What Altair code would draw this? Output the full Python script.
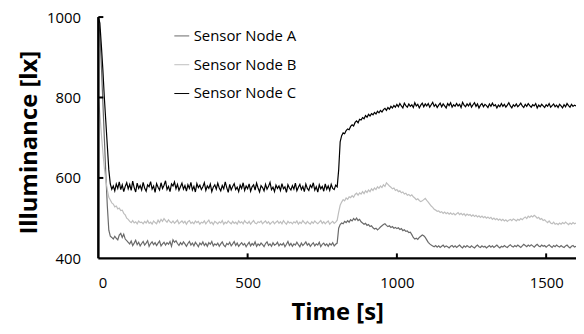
import altair as alt
import pandas as pd

# sampling instants (s)
time_s = list(range(0, 1605, 5))

node_a = [
    1000, 960, 880, 790, 700, 610, 530, 470, 455, 452,
    448, 455, 450, 446, 458, 462, 452, 460, 448, 444,
    440, 436, 443, 432, 438, 445, 434, 440, 431, 437,
    442, 433, 438, 444, 430, 437, 441, 434, 439, 432,
    438, 443, 431, 436, 440, 433, 439, 435, 442, 430,
    446, 440, 444, 437, 432, 439, 434, 441, 436, 430,
    437, 442, 433, 438, 431, 440, 435, 429, 438, 434,
    441, 432, 437, 430, 439, 435, 442, 431, 436, 433,
    438, 430, 436, 441, 433, 429, 437, 434, 440, 431,
    436, 442, 432, 438, 430, 435, 439, 433, 437, 429,
    435, 440, 431, 437, 433, 441, 430, 436, 432, 438,
    434, 429, 437, 441, 432, 436, 430, 439, 433, 435,
    440, 431, 436, 433, 438, 429, 435, 442, 432, 437,
    430, 436, 433, 440, 434, 429, 438, 432, 436, 441,
    433, 437, 430, 435, 439, 431, 436, 433, 440, 429,
    435, 438, 432, 436, 430, 437, 433, 439, 431, 435,
    438, 475, 484, 488, 486, 492, 489, 494, 490, 496,
    493, 499, 495, 500, 494, 497, 491, 488, 485, 487,
    482, 484, 479, 481, 476, 473, 475, 471, 474, 478,
    481, 484, 486, 482, 479, 481, 477, 479, 475, 477,
    474, 476, 472, 474, 469, 471, 467, 468, 464, 465,
    459, 452, 448, 450, 447, 452, 455, 458, 456, 452,
    446, 440, 436, 433, 431, 429, 432, 428, 431, 427,
    430, 433, 428, 431, 429, 426, 430, 432, 428, 431,
    427, 430, 433, 429, 426, 431, 428, 432, 429, 427,
    431, 428, 426, 430, 433, 429, 427, 431, 428, 430,
    426, 429, 432, 428, 431, 427, 430, 433, 429, 426,
    430, 428, 432, 429, 427, 431, 434, 430, 428, 432,
    429, 433, 430, 427, 431, 435, 432, 429, 433, 430,
    434, 431, 428, 432, 435, 431, 429, 433, 430, 432,
    428, 431, 434, 430, 427, 432, 429, 433, 430, 428,
    432, 429, 427, 431, 433, 429, 426, 430, 432, 428,
    430,
]

node_b = [
    800, 760, 710, 665, 625, 595, 570, 552, 545, 538,
    535, 528, 530, 523, 525, 519, 520, 512, 508, 500,
    497, 492, 489, 494, 488, 491, 486, 493, 489, 490,
    486, 492, 488, 494, 487, 490, 485, 493, 489, 486,
    495, 489, 497, 492, 499, 494, 490, 496, 491, 488,
    493, 487, 491, 495, 486, 490, 493, 488, 492, 485,
    491, 494, 487, 490, 486, 493, 489, 492, 485, 490,
    488, 493, 486, 491, 495, 487, 490, 484, 492, 489,
    486, 491, 488, 494, 485, 490, 487, 493, 489, 486,
    492, 487, 490, 485, 493, 488, 491, 486, 494, 489,
    487, 492, 485, 490, 494, 488, 486, 491, 489, 493,
    486, 490, 493, 487, 491, 485, 489, 492, 486, 490,
    493, 487, 491, 486, 494, 489, 485, 492, 488, 490,
    486, 491, 488, 493, 485, 490, 487, 494, 489, 486,
    492, 488, 485, 491, 487, 493, 489, 486, 490, 494,
    487, 491, 486, 490, 493, 485, 489, 492, 487, 490,
    495, 515, 532, 540, 546, 543, 550, 547, 553, 551,
    556, 552, 559, 562, 557, 563, 560, 566, 561, 568,
    564, 570, 566, 573, 569, 575, 571, 578, 574, 580,
    576, 583, 579, 588, 584, 580, 577, 573, 575, 569,
    571, 566, 568, 563, 565, 560, 562, 557, 559, 555,
    558, 553, 550, 546, 548, 544, 541, 543, 546, 549,
    544, 540, 535, 530, 527, 522, 520, 517, 518, 514,
    516, 512, 515, 511, 514, 510, 513, 509, 512, 508,
    511, 514, 509, 512, 508, 511, 506, 510, 507, 509,
    505, 508, 504, 507, 503, 506, 502, 505, 501, 504,
    500, 503, 499, 502, 497, 500, 496, 499, 495, 498,
    494, 497, 493, 496, 492, 495, 497, 494, 498, 496,
    493, 497, 495, 499, 496, 500, 503, 499, 505, 502,
    506, 503, 507, 504, 500, 502, 497, 499, 494, 496,
    492, 489, 493, 488, 486, 490, 485, 487, 484, 488,
    485, 489, 486, 490, 487, 484, 488, 485, 489, 486,
    488,
]

node_c = [
    1000, 985, 930, 870, 800, 740, 680, 620, 585, 572,
    580, 568, 585, 574, 590, 571, 583, 566, 579, 588,
    573, 584, 569, 592, 576, 565, 587, 574, 581, 570,
    589, 575, 567, 583, 578, 591, 572, 580, 564, 586,
    577, 570, 588, 574, 582, 593, 571, 579, 566, 585,
    580, 590, 573, 584, 569, 578, 587, 572, 581, 567,
    583, 574, 589, 570, 579, 565, 586, 576, 582, 571,
    578, 588, 569, 580, 574, 585, 566, 577, 583, 572,
    587, 575, 568, 581, 573, 590, 576, 564, 584, 570,
    579, 586, 571, 577, 566, 582, 574, 588, 569, 580,
    573, 585, 567, 578, 583, 570, 587, 575, 565, 581,
    576, 568, 584, 572, 579, 589, 571, 577, 566, 582,
    574, 580, 569, 586, 573, 578, 564, 583, 575, 570,
    581, 572, 587, 568, 577, 584, 571, 579, 566, 585,
    574, 569, 582, 576, 588, 570, 578, 565, 583, 573,
    579, 567, 585, 572, 580, 569, 584, 574, 571, 582,
    578, 620, 690, 705, 712, 710, 718, 722, 720, 728,
    732, 729, 738, 742, 737, 746, 744, 750, 747, 755,
    751, 758, 754, 760, 757, 763, 759, 766, 762, 768,
    764, 770, 773, 768, 775, 771, 778, 774, 780, 776,
    783, 777, 785, 779, 774, 786, 780, 776, 784, 778,
    782, 775, 787, 779, 783, 774, 781, 786, 777, 784,
    779, 785, 776, 782, 788, 778, 783, 775, 781, 786,
    777, 784, 779, 774, 785, 780, 787, 776, 782, 778,
    785, 779, 783, 775, 788, 781, 777, 784, 779, 786,
    776, 782, 787, 778, 784, 774, 781, 785, 777, 783,
    780, 775, 784, 778, 786, 779, 782, 774, 781, 777,
    785, 778, 783, 776, 781, 787, 779, 774, 782, 778,
    784, 777, 781, 786, 779, 775, 783, 778, 785, 780,
    776, 782, 779, 785, 774, 781, 777, 783, 779, 775,
    782, 778, 785, 776, 780, 784, 777, 781, 775, 783,
    779, 774, 782, 777, 785, 780, 776, 783, 778, 781,
    779,
]

series_names = ["Sensor Node A", "Sensor Node B", "Sensor Node C"]
series_colors = ["#6a6a6a", "#bebebe", "#000000"]
x_domain = [0, 1600]
y_domain = [400, 1000]
x_tick_values = [0, 500, 1000, 1500]
y_tick_values = [400, 600, 800, 1000]
x_inner_ticks = [500, 1000, 1500]
y_inner_ticks = [600, 800, 1000]

rows = []
for name, vals in zip(series_names, [node_a, node_b, node_c]):
    for t, v in zip(time_s, vals):
        rows.append({"Time": t, "Illuminance": v, "Series": name})
df = pd.DataFrame(rows)

W, H = 481, 243
FONT = "Open Sans"

x_scale = alt.Scale(domain=x_domain, nice=False, zero=False)
y_scale = alt.Scale(domain=y_domain, nice=False, zero=False)

x_axis = alt.Axis(
    title="Time [s]", values=x_tick_values, format="d", ticks=False, grid=False,
    domain=False, labelFont=FONT, labelFontSize=15,
    labelColor="black", labelPadding=17, titleFont=FONT, titleFontSize=24,
    titleFontWeight="bold", titleColor="black", titleY=62,
    titleBaseline="alphabetic")
y_axis = alt.Axis(
    title="Illuminance [lx]", values=y_tick_values, format="d", ticks=False, grid=False,
    domain=False, labelFont=FONT, labelFontSize=15,
    labelColor="black", labelPadding=18, titleFont=FONT, titleFontSize=24,
    titleFontWeight="bold", titleColor="black", titleX=-62, titleY=126,
    titleAngle=-90, titleAlign="center", titleBaseline="alphabetic")

lines = alt.Chart(df).mark_line(strokeWidth=1.2, clip=True).encode(
    x=alt.X("Time:Q", scale=x_scale, axis=x_axis),
    y=alt.Y("Illuminance:Q", scale=y_scale, axis=y_axis),
    color=alt.Color("Series:N", scale=alt.Scale(domain=series_names, range=series_colors),
                    legend=alt.Legend(orient="none", legendX=76, legendY=11, title=None,
                                      symbolType="stroke", symbolSize=225,
                                      symbolStrokeWidth=1, labelFont=FONT,
                                      labelFontSize=15, labelColor="black",
                                      labelOffset=4, rowPadding=13, padding=0)),
)

# axis lines (drawn through the scales)
y_line = alt.Chart(pd.DataFrame({"lo": [y_domain[0]], "hi": [y_domain[1]]})).mark_rule(
    color="black", strokeWidth=2.5).encode(
    y=alt.Y("lo:Q", scale=y_scale), y2="hi:Q", x=alt.value(0))
x_line = alt.Chart(pd.DataFrame({"lo": [x_domain[0]], "hi": [x_domain[1]]})).mark_rule(
    color="black", strokeWidth=2.5).encode(
    x=alt.X("lo:Q", scale=x_scale), x2="hi:Q", y=alt.value(H))

# inward tick marks
yt = alt.Chart(pd.DataFrame({"v": y_inner_ticks})).mark_rule(color="black", strokeWidth=2).encode(
    y=alt.Y("v:Q", scale=y_scale), x=alt.value(0), x2=alt.value(5))
xt = alt.Chart(pd.DataFrame({"v": x_inner_ticks})).mark_rule(color="black", strokeWidth=2).encode(
    x=alt.X("v:Q", scale=x_scale), y=alt.value(H), y2=alt.value(H - 5))

chart = alt.layer(lines, y_line, x_line, yt, xt).properties(
    width=W, height=H, autosize=alt.AutoSizeParams(type="none"),
    padding={"left": 91, "top": 8, "right": 0, "bottom": 70},
    background="white",
).configure_view(stroke=None)

chart.save("out.html", embed_options={"renderer": "svg", "actions": False})
